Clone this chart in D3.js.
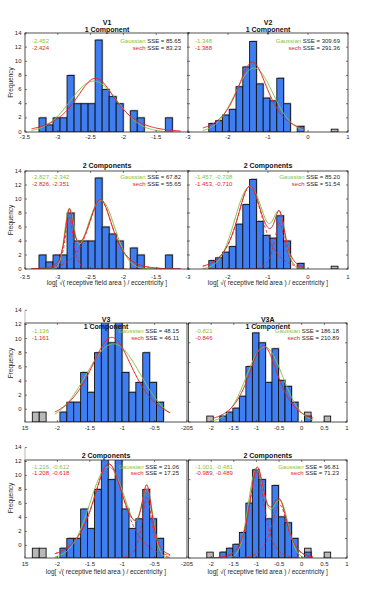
<!DOCTYPE html>
<html>
<head>
<meta charset="utf-8">
<script src="https://cdn.jsdelivr.net/npm/d3@7"></script>
<style>
  body { margin: 0; background: #fff; }
  text { font-family: "Liberation Sans", Arial, sans-serif; fill: #262626; }
</style>
</head>
<body>
<svg id="fig"></svg>
<script>
// ---------- data ----------
// histogram bins: first bin edge, bin width, counts per bin (blue = fitted, gray = excluded)
const v1BinStart = -3.287, v1BinWidth = 0.107;
const v1Counts = [2,1,2,2,8,4,4,4,13,6,5,4,0,3,2,0,0,0,2];
const v1Gray   = [0,0,0,0,0,0,0,0,0,0,0,0,0,0,0,0,0,0,0];

const v2BinStart = -2.48, v2BinWidth = 0.17;
const v2Counts = [3,4,6,8,16,23,32,17,12,11,19,10,0,2,0,0,0,0,0];
const v2Gray   = [0,0,0,0,0,0,0,0,0,0,0,0,0,0,0,0,0,0,1];

const v3BinStart = -2.387, v3BinWidth = 0.1065;
const v3Counts = [0,0,0,0,1,2,2,5,3,7,12,8,12,5,3,4,7,4,2];
const v3Gray   = [1,1,0,0,0,0,0,0,0,0,0,0,0,0,0,0,0,0,0];

const v3aBinStart = -2.097, v3aBinWidth = 0.144;
const v3aCounts = [0,0,3,5,7,13,28,45,40,20,37,21,18,10,0,3,0,0,0];
const v3aGray   = [3,0,0,0,0,0,0,0,0,0,0,0,0,0,0,5,0,0,3];

// fit parameters [centre, amplitude, width] per component, and plotted x range
const v1Gauss1 = [[-2.452, 7.2, 0.36]];
const v1Sech1  = [[-2.424, 7.6, 0.28]];
const v1Gauss2 = [[-2.827, 8.0, 0.07], [-2.342, 9.8, 0.21]];
const v1Sech2  = [[-2.826, 7.4, 0.055], [-2.351, 9.9, 0.17]];
const v1FitRange = [-3.40, -1.13];

const v2Gauss1 = [[-1.348, 22.6, 0.47]];
const v2Sech1  = [[-1.388, 24.7, 0.35]];
const v2Gauss2 = [[-1.457, 29.4, 0.37], [-0.708, 16.6, 0.153]];
const v2Sech2  = [[-1.453, 29.6, 0.29], [-0.710, 16.3, 0.12]];
const v2FitRange = [-2.63, -0.11];

const v3Gauss1 = [[-1.136, 7.9, 0.42]];
const v3Sech1  = [[-1.161, 8.55, 0.31]];
const v3Gauss2 = [[-1.216, 9.3, 0.28], [-0.612, 6.1, 0.09]];
const v3Sech2  = [[-1.208, 9.6, 0.22], [-0.618, 6.15, 0.07]];
const v3FitRange = [-2.04, -0.26];

const v3aGauss1 = [[-0.821, 38, 0.40]];
const v3aSech1  = [[-0.846, 38.5, 0.30]];
const v3aGauss2 = [[-1.001, 45, 0.18], [-0.481, 28.8, 0.18]];
const v3aSech2  = [[-0.989, 44, 0.15], [-0.489, 27.1, 0.16]];
const v3aFitRange = [-1.96, 0.25];

// legend texts
const meansGauss = ["-2.452", "-1.348", "-2.827, -2.342", "-1.457, -0.708",
                    "-1.136", "-0.821", "-1.216, -0.612", "-1.001, -0.481"];
const meansSech  = ["-2.424", "-1.388", "-2.826, -2.351", "-1.453, -0.710",
                    "-1.161", "-0.846", "-1.208, -0.618", "-0.989, -0.489"];
const sseGauss = ["85.65", "309.69", "67.82", "85.20", "48.15", "186.18", "21.06", "96.81"];
const sseSech  = ["83.23", "291.36", "55.65", "51.54", "46.11", "210.89", "17.25", "71.23"];

// axis ticks and tick labels
const ticksV1 = [-3.5, -3, -2.5, -2, -1.5, -1];
const labelsV1 = ["-3.5", "-3", "-2.5", "-2", "-1.5", ""];
const ticksV2 = [-3, -2, -1, 0, 1];
const labelsV2 = ["-3", "-2", "-1", "0", "1"];
const ticksV3 = [-2.5, -2, -1.5, -1, -0.5, 0];
const labelsV3 = ["15", "-2", "-1.5", "-1", "-0.5", "-205"];
const ticksV3A = [-2.5, -2, -1.5, -1, -0.5, 0, 0.5, 1];
const labelsV3A = ["", "-2", "-1.5", "-1", "-0.5", "0", "0.5", "1"];
const freqTicks = [0, 2, 4, 6, 8, 10, 12, 14];

const xLabelText = "log[ \u221A( receptive field area ) / eccentricity ]";

// ---------- drawing ----------
const GREEN = "#86c443", RED = "#e3242b", BLUE = "#3f7ef0";

const svg = d3.select("#fig").attr("width", 368).attr("height", 590);

const gaussF = (x, c) => c[1] * Math.exp(-Math.pow(x - c[0], 2) / (2 * c[2] * c[2]));
const sechF = (x, c) => c[1] / Math.cosh((x - c[0]) / c[2]);

const panels = [
  { id: 0, title: ["V1", "1 Component"], box: {l: 25, r: 189, t: 33, b: 132}, xDomain: [-3.5, -1], yMax: 14,
    yTicks: d3.range(0, 15, 2), yLabels: true, ticks: ticksV1, labels: labelsV1,
    binStart: v1BinStart, binWidth: v1BinWidth, counts: v1Counts, gray: v1Gray,
    gauss: v1Gauss1, sech: v1Sech1, range: v1FitRange, titleY: [24.5, 31.5], legY: 43, tickY: 138.6 },
  { id: 1, title: ["V2", "1 Component"], box: {l: 188, r: 348, t: 33, b: 132}, xDomain: [-3, 1], yMax: 35,
    yTicks: d3.range(0, 36, 5), yLabels: false, ticks: ticksV2, labels: labelsV2,
    binStart: v2BinStart, binWidth: v2BinWidth, counts: v2Counts, gray: v2Gray,
    gauss: v2Gauss1, sech: v2Sech1, range: v2FitRange, titleY: [24.5, 31.5], legY: 43, tickY: 138.6 },
  { id: 2, title: ["2 Components"], box: {l: 25, r: 189, t: 171, b: 269}, xDomain: [-3.5, -1], yMax: 14,
    yTicks: d3.range(0, 15, 2), yLabels: true, ticks: ticksV1, labels: labelsV1,
    binStart: v1BinStart, binWidth: v1BinWidth, counts: v1Counts, gray: v1Gray,
    gauss: v1Gauss2, sech: v1Sech2, range: v1FitRange, titleY: [167.5], legY: 179, tickY: 278.6, xlabY: 285 },
  { id: 3, title: ["2 Components"], box: {l: 188, r: 348, t: 171, b: 269}, xDomain: [-3, 1], yMax: 35,
    yTicks: d3.range(0, 36, 5), yLabels: false, ticks: ticksV2, labels: labelsV2,
    binStart: v2BinStart, binWidth: v2BinWidth, counts: v2Counts, gray: v2Gray,
    gauss: v2Gauss2, sech: v2Sech2, range: v2FitRange, titleY: [167.5], legY: 179, tickY: 278.6, xlabY: 285 },
  { id: 4, title: ["V3", "1 Component"], box: {l: 25, r: 187, t: 323, b: 422}, xDomain: [-2.5, 0], yMax: 10,
    oddAxis: true, yLabels: true, ticks: ticksV3, labels: labelsV3,
    binStart: v3BinStart, binWidth: v3BinWidth, counts: v3Counts, gray: v3Gray,
    gauss: v3Gauss1, sech: v3Sech1, range: v3FitRange, titleY: [322, 328.5], legY: 333, tickY: 429.5 },
  { id: 5, title: ["V3A", "1 Component"], box: {l: 188.5, r: 347, t: 323, b: 422}, xDomain: [-2.5, 1], yMax: 50,
    yTicks: d3.range(0, 51, 10), yLabels: false, ticks: ticksV3A, labels: labelsV3A,
    binStart: v3aBinStart, binWidth: v3aBinWidth, counts: v3aCounts, gray: v3aGray,
    gauss: v3aGauss1, sech: v3aSech1, range: v3aFitRange, titleY: [322, 328.5], legY: 333, tickY: 429.5 },
  { id: 6, title: ["2 Components"], box: {l: 25, r: 187, t: 460, b: 558}, xDomain: [-2.5, 0], yMax: 10,
    oddAxis: true, yLabels: true, ticks: ticksV3, labels: labelsV3,
    binStart: v3BinStart, binWidth: v3BinWidth, counts: v3Counts, gray: v3Gray,
    gauss: v3Gauss2, sech: v3Sech2, range: v3FitRange, titleY: [457.5], legY: 468.5, tickY: 565.5, xlabY: 574 },
  { id: 7, title: ["2 Components"], box: {l: 188.5, r: 347, t: 460, b: 558}, xDomain: [-2.5, 1], yMax: 50,
    yTicks: d3.range(0, 51, 10), yLabels: false, ticks: ticksV3A, labels: labelsV3A,
    binStart: v3aBinStart, binWidth: v3aBinWidth, counts: v3aCounts, gray: v3aGray,
    gauss: v3aGauss2, sech: v3aSech2, range: v3aFitRange, titleY: [457.5], legY: 468.5, tickY: 565.5, xlabY: 574 }
];

const defs = svg.append("defs");

panels.forEach(p => {
  const b = p.box;
  const x = d3.scaleLinear().domain(p.xDomain).range([b.l, b.r]);
  const y = d3.scaleLinear().domain([0, p.yMax]).range([b.b, b.t]);
  const g = svg.append("g");

  g.append("rect").attr("x", b.l).attr("y", b.t).attr("width", b.r - b.l).attr("height", b.b - b.t)
    .attr("fill", "#fff");

  defs.append("clipPath").attr("id", "clip" + p.id)
    .append("rect").attr("x", b.l).attr("y", b.t).attr("width", b.r - b.l).attr("height", b.b - b.t);
  const plot = g.append("g").attr("clip-path", `url(#clip${p.id})`);

  const bins = p.counts.map((c, i) => ({
    x0: p.binStart + i * p.binWidth,
    x1: p.binStart + (i + 1) * p.binWidth,
    blue: c, gray: p.gray[i]
  }));

  // light shadow copy behind the bars
  plot.selectAll(".shadow").data(bins.filter(d => d.blue > 0)).join("rect")
    .attr("x", d => x(d.x0) + 1.2).attr("y", d => y(d.blue) - 1.2)
    .attr("width", d => x(d.x1) - x(d.x0)).attr("height", d => y(0) - y(d.blue))
    .attr("fill", "#c4c4c4");

  plot.selectAll(".gbar").data(bins.filter(d => d.gray > 0)).join("rect")
    .attr("x", d => x(d.x0)).attr("y", d => y(d.gray))
    .attr("width", d => x(d.x1) - x(d.x0)).attr("height", d => y(0) - y(d.gray))
    .attr("fill", "#b8b8b8").attr("stroke", "#111").attr("stroke-width", 0.9);

  plot.selectAll(".bbar").data(bins.filter(d => d.blue > 0)).join("rect")
    .attr("x", d => x(d.x0)).attr("y", d => y(d.blue))
    .attr("width", d => x(d.x1) - x(d.x0)).attr("height", d => y(0) - y(d.blue))
    .attr("fill", BLUE).attr("stroke", "#111").attr("stroke-width", 0.9);

  // fitted curves
  const xs = d3.range(0, 161).map(i => p.range[0] + (p.range[1] - p.range[0]) * i / 160);
  const line = d3.line().x(d => x(d[0])).y(d => y(d[1]));
  const total = (comps, f) => xs.map(v => [v, d3.sum(comps, c => f(v, c))]);

  if (p.sech.length > 1) {
    p.sech.forEach(c => {
      plot.append("path").attr("d", line(xs.map(v => [v, sechF(v, c)])))
        .attr("fill", "none").attr("stroke", RED).attr("stroke-width", 0.9)
        .attr("stroke-dasharray", "3,2");
    });
  }
  plot.append("path").attr("d", line(total(p.gauss, gaussF)))
    .attr("fill", "none").attr("stroke", GREEN).attr("stroke-width", 1);
  plot.append("path").attr("d", line(total(p.sech, sechF)))
    .attr("fill", "none").attr("stroke", RED).attr("stroke-width", 1);

  // box
  g.append("rect").attr("x", b.l).attr("y", b.t).attr("width", b.r - b.l).attr("height", b.b - b.t)
    .attr("fill", "none").attr("stroke", "#262626").attr("stroke-width", 0.8);

  // x ticks (bottom and top, pointing inward)
  p.ticks.forEach((t, i) => {
    g.append("line").attr("x1", x(t)).attr("x2", x(t)).attr("y1", b.b).attr("y2", b.b - 2)
      .attr("stroke", "#262626").attr("stroke-width", 0.6);
    g.append("line").attr("x1", x(t)).attr("x2", x(t)).attr("y1", b.t).attr("y2", b.t + 2)
      .attr("stroke", "#262626").attr("stroke-width", 0.6);
    g.append("text").attr("x", x(t)).attr("y", p.tickY).attr("text-anchor", "middle")
      .attr("font-size", "6px").text(p.labels[i]);
  });

  // y ticks
  if (p.oddAxis) {
    const ly = d3.scaleLinear().domain([-1.8, 12.2]).range([b.b, b.t]);
    g.append("line").attr("x1", b.l).attr("x2", b.l).attr("y1", ly(14)).attr("y2", b.b)
      .attr("stroke", "#8a8a8a").attr("stroke-width", 0.6);
    freqTicks.forEach(t => {
      g.append("line").attr("x1", b.l).attr("x2", b.l + 2).attr("y1", ly(t)).attr("y2", ly(t))
        .attr("stroke", "#262626").attr("stroke-width", 0.6);
      g.append("text").attr("x", b.l - 3.5).attr("y", ly(t) + 2).attr("text-anchor", "end")
        .attr("font-size", "6px").text(t);
    });
  } else {
    p.yTicks.forEach(t => {
      g.append("line").attr("x1", b.l).attr("x2", b.l + 2).attr("y1", y(t)).attr("y2", y(t))
        .attr("stroke", "#262626").attr("stroke-width", 0.6);
      g.append("line").attr("x1", b.r).attr("x2", b.r - 2).attr("y1", y(t)).attr("y2", y(t))
        .attr("stroke", "#262626").attr("stroke-width", 0.6);
      if (p.yLabels) {
        g.append("text").attr("x", b.l - 3.5).attr("y", y(t) + 1.6).attr("text-anchor", "end")
          .attr("font-size", "6px").text(t);
      }
    });
  }

  // titles
  const cx = (b.l + b.r) / 2;
  p.title.forEach((s, i) => {
    g.append("text").attr("x", cx).attr("y", p.titleY[i]).attr("text-anchor", "middle")
      .attr("font-size", "7px").attr("font-weight", "bold").style("fill", "#111").text(s);
  });

  // legends
  g.append("text").attr("x", b.l + 7).attr("y", p.legY).attr("font-size", "6px")
    .style("fill", GREEN).text(meansGauss[p.id]);
  g.append("text").attr("x", b.l + 7).attr("y", p.legY + 6.5).attr("font-size", "6px")
    .style("fill", RED).text(meansSech[p.id]);

  const rx = b.r - 8;
  const t1 = g.append("text").attr("x", rx).attr("y", p.legY).attr("font-size", "6px").attr("text-anchor", "end");
  t1.append("tspan").style("fill", GREEN).text("Gaussian ");
  t1.append("tspan").text("SSE = " + sseGauss[p.id]);
  const t2 = g.append("text").attr("x", rx).attr("y", p.legY + 6.5).attr("font-size", "6px").attr("text-anchor", "end");
  t2.append("tspan").style("fill", RED).text("sech ");
  t2.append("tspan").text("SSE = " + sseSech[p.id]);

  // axis labels
  if (p.yLabels) {
    const my = p.oddAxis ? (p.id === 4 ? 363 : 498) : (b.t + b.b) / 2;
    g.append("text").attr("transform", `translate(13,${my}) rotate(-90)`)
      .attr("text-anchor", "middle").attr("font-size", "6.5px").text("Frequency");
  }
  if (p.xlabY) {
    g.append("text").attr("x", cx).attr("y", p.xlabY).attr("text-anchor", "middle")
      .attr("font-size", "6.5px").text(xLabelText);
  }
});
</script>
</body>
</html>
